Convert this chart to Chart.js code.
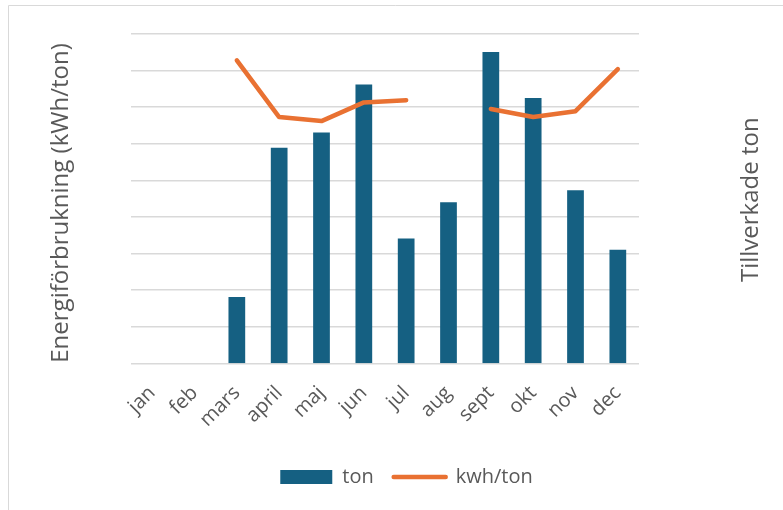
<!DOCTYPE html>
<html>
<head>
<meta charset="utf-8">
<script src="https://cdn.jsdelivr.net/npm/chart.js@4/dist/chart.umd.min.js"></script>
<style>
html,body{margin:0;padding:0;background:#fff;}
#wrap{position:relative;width:783px;height:510px;}
</style>
</head>
<body>
<div id="wrap"><canvas id="c" width="783" height="510"></canvas></div>
<script>
const months = ['jan','feb','mars','april','maj','jun','jul','aug','sept','okt','nov','dec'];
const tonValues = [null, null, 181, 589, 631, 762, 341, 440, 851, 725, 473, 310];
const kwhValues = [null, null, 82.8, 67.3, 66.2, 71.3, 71.9, null, 69.5, 67.3, 68.9, 80.4];
const leftTitle = 'Energiförbrukning (kWh/ton)';
const rightTitle = 'Tillverkade ton';

const BLUE = '#156082';
const ORANGE = '#E97132';
const TEXT = '#595959';
const FONT = "'Open Sans', sans-serif";

Chart.defaults.font.family = FONT;
Chart.defaults.color = TEXT;

const decor = {
  id: 'decor',
  beforeDraw(chart) {
    const ctx = chart.ctx;
    ctx.save();
    ctx.strokeStyle = '#d9d9d9';
    ctx.lineWidth = 1;
    ctx.beginPath();
    ctx.moveTo(8.5, 510);
    ctx.lineTo(8.5, 5.5);
    ctx.lineTo(783, 5.5);
    ctx.stroke();
    ctx.restore();
  },
  afterDraw(chart) {
    const ctx = chart.ctx;
    ctx.save();
    ctx.fillStyle = TEXT;
    ctx.font = "24px " + FONT;
    ctx.textAlign = 'center';
    ctx.textBaseline = 'middle';
    ctx.translate(61, 203);
    ctx.rotate(-Math.PI / 2);
    ctx.fillText(leftTitle, 0, 0);
    ctx.restore();
    ctx.save();
    ctx.fillStyle = TEXT;
    ctx.font = "24px " + FONT;
    ctx.textAlign = 'center';
    ctx.textBaseline = 'middle';
    ctx.translate(751, 199.7);
    ctx.rotate(-Math.PI / 2);
    ctx.fillText(rightTitle, 0, 0);
    ctx.restore();
  }
};

new Chart(document.getElementById('c'), {
  type: 'bar',
  data: {
    labels: months,
    datasets: [
      {
        type: 'bar',
        label: 'ton',
        data: tonValues,
        backgroundColor: BLUE,
        borderWidth: 0,
        yAxisID: 'yT',
        categoryPercentage: 1,
        barPercentage: 0.395,
        order: 2
      },
      {
        type: 'line',
        label: 'kwh/ton',
        data: kwhValues,
        borderColor: ORANGE,
        backgroundColor: ORANGE,
        borderWidth: 4.5,
        borderCapStyle: 'round',
        borderJoinStyle: 'round',
        pointRadius: 0,
        pointHoverRadius: 0,
        spanGaps: false,
        tension: 0,
        yAxisID: 'yK',
        order: 1
      }
    ]
  },
  options: {
    responsive: false,
    animation: false,
    devicePixelRatio: 1,
    layout: { padding: { left: 30, right: 0, top: 34, bottom: 13 } },
    plugins: {
      tooltip: { enabled: false },
      legend: {
        position: 'bottom',
        labels: {
          usePointStyle: true,
          pointStyleWidth: 52,
          boxHeight: 14,
          padding: 20,
          color: TEXT,
          font: { size: 20, family: FONT },
          sort: (a, b) => a.datasetIndex - b.datasetIndex,
          generateLabels(chart) {
            const items = Chart.defaults.plugins.legend.labels.generateLabels(chart);
            items.forEach(it => {
              if (it.datasetIndex === 0) { it.pointStyle = 'rect'; it.lineWidth = 0; }
              else { it.pointStyle = 'line'; it.lineCap = 'round'; }
            });
            return items;
          }
        }
      }
    },
    scales: {
      x: {
        grid: { display: false },
        border: { display: false },
        ticks: {
          autoSkip: false,
          maxRotation: 45,
          minRotation: 45,
          padding: 10,
          color: TEXT,
          font: { size: 20, family: FONT }
        },
        afterFit(s) { s.height = 83.7; }
      },
      yK: {
        position: 'left',
        min: 0,
        max: 90,
        ticks: { display: false, stepSize: 10 },
        grid: { color: '#d9d9d9', lineWidth: 1.5, drawTicks: false },
        border: { display: false },
        afterFit(s) { s.width = 101; }
      },
      yT: {
        position: 'right',
        min: 0,
        max: 900,
        ticks: { display: false, stepSize: 100 },
        grid: { display: false, drawTicks: false },
        border: { display: false },
        afterFit(s) { s.width = 144; }
      }
    }
  },
  plugins: [decor]
});
</script>
</body>
</html>
